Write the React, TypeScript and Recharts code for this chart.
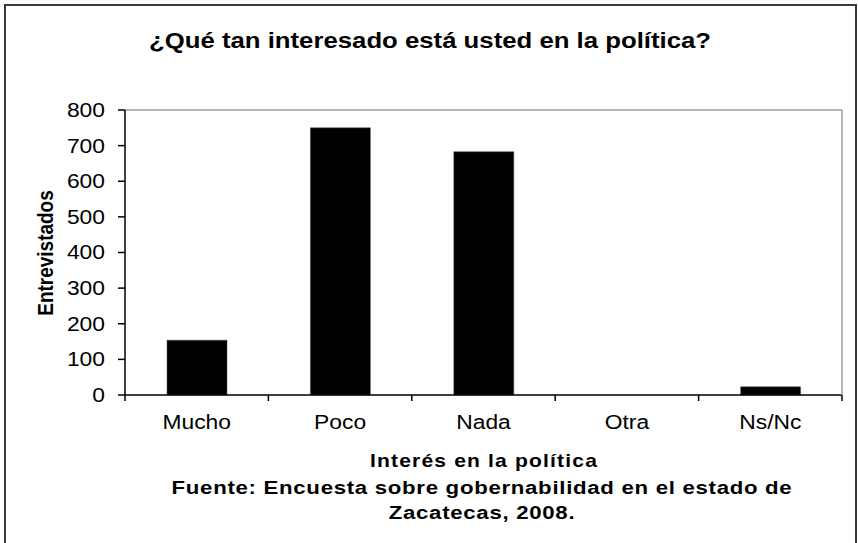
import React from 'react';
import { BarChart, Bar, XAxis, YAxis } from 'recharts';

const categories = ['Mucho', 'Poco', 'Nada', 'Otra', 'Ns/Nc'];
const values = [154, 750, 683, 0, 23];
const yTicks = [0, 100, 200, 300, 400, 500, 600, 700, 800];

const title = '¿Qué tan interesado está usted en la política?';
const yLabel = 'Entrevistados';
const xLabel = 'Interés en la política';
const sourceLine1 = 'Fuente: Encuesta sobre gobernabilidad en el estado de';
const sourceLine2 = 'Zacatecas, 2008.';

const data = categories.map((c, i) => ({ cat: c, value: values[i] }));

const W = 858;
const H = 543;
const SX = 1.17;
const FONT = "'Liberation Sans', Arial, Helvetica, sans-serif";
const PLOT_LEFT = 125;
const PLOT_RIGHT = 842;
const BW = (PLOT_RIGHT - PLOT_LEFT) / categories.length;

const YTick = (props: any) => {
  const { x, y, payload } = props;
  return (
    <text
      transform={`translate(${x},${y}) scale(${SX},1)`}
      textAnchor="end"
      dominantBaseline="central"
      fontSize={19.5}
      fontFamily={FONT}
      fill="#000"
    >
      {payload.value}
    </text>
  );
};

const XTick = (props: any) => {
  const { x, y, payload, index } = props;
  const n = categories.length;
  return (
    <g>
      <line x1={x - BW / 2} x2={x - BW / 2} y1={y} y2={y + 6} stroke="#000" strokeWidth={1.5} />
      {index === n - 1 && (
        <line x1={x + BW / 2} x2={x + BW / 2} y1={y} y2={y + 6} stroke="#000" strokeWidth={1.5} />
      )}
      <text
        transform={`translate(${x},${y + 34}) scale(${SX},1)`}
        textAnchor="middle"
        fontSize={19.5}
        fontFamily={FONT}
        fill="#000"
      >
        {payload.value}
      </text>
    </g>
  );
};

export default function App() {
  return (
    <div style={{ position: 'absolute', left: 0, top: 0, width: W, height: H, background: '#fff' }}>
      <BarChart
        width={W}
        height={H}
        data={data}
        margin={{ top: 109, right: W - PLOT_RIGHT - 1, bottom: 147, left: 0 }}
      >
        <XAxis
          dataKey="cat"
          height={1}
          tickLine={false}
          tickSize={0}
          tickMargin={0}
          axisLine={{ stroke: '#000', strokeWidth: 1.5 }}
          tick={<XTick />}
          interval={0}
        />
        <XAxis
          xAxisId="top"
          orientation="top"
          dataKey="cat"
          height={1}
          tick={false}
          tickLine={false}
          axisLine={{ stroke: '#9a9a9a', strokeWidth: 1.5 }}
        />
        <YAxis
          width={PLOT_LEFT}
          domain={[0, 800]}
          ticks={yTicks}
          interval={0}
          tickSize={7}
          tickMargin={13}
          tickLine={{ stroke: '#000', strokeWidth: 1.5 }}
          axisLine={{ stroke: '#000', strokeWidth: 1.5 }}
          tick={<YTick />}
        />
        <YAxis
          yAxisId="right"
          orientation="right"
          width={1}
          domain={[0, 800]}
          tick={false}
          tickLine={false}
          axisLine={{ stroke: '#9a9a9a', strokeWidth: 1.5 }}
        />
        <Bar dataKey="value" fill="#000" stroke="#555" strokeWidth={0.5} barSize={60} isAnimationActive={false} />
      </BarChart>
      <svg
        width={W}
        height={H}
        style={{ position: 'absolute', left: 0, top: 0, pointerEvents: 'none' }}
      >
        <rect x={5} y={5} width={851} height={620} fill="none" stroke="#3a3a3a" strokeWidth={2} />
        <text
          transform={`translate(430,48) scale(${SX},1)`}
          textAnchor="middle"
          fontSize={22}
          fontWeight="bold"
          fontFamily={FONT}
          fill="#000"
        >
          {title}
        </text>
        <text
          transform={`translate(45,253) scale(${SX},1) rotate(-90)`}
          textAnchor="middle"
          dominantBaseline="central"
          fontSize={19}
          fontWeight="bold"
          fontFamily={FONT}
          fill="#000"
        >
          {yLabel}
        </text>
        <text
          transform={`translate(484,467) scale(${SX},1)`}
          textAnchor="middle"
          fontSize={18}
          fontWeight="bold"
          letterSpacing={1}
          fontFamily={FONT}
          fill="#000"
        >
          {xLabel}
        </text>
        <text
          transform={`translate(482,494) scale(${SX},1)`}
          textAnchor="middle"
          fontSize={19}
          fontWeight="bold"
          letterSpacing={0.6}
          fontFamily={FONT}
          fill="#000"
        >
          {sourceLine1}
        </text>
        <text
          transform={`translate(482,519) scale(${SX},1)`}
          textAnchor="middle"
          fontSize={19}
          fontWeight="bold"
          letterSpacing={0.6}
          fontFamily={FONT}
          fill="#000"
        >
          {sourceLine2}
        </text>
      </svg>
    </div>
  );
}
